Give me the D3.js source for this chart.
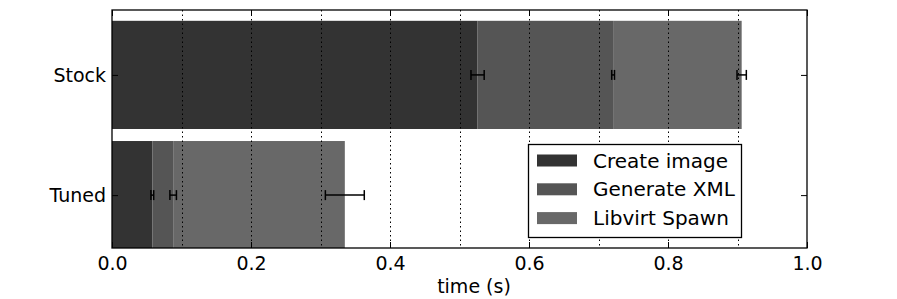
<!DOCTYPE html>
<html>
<head>
<meta charset="utf-8">
<script src="https://cdn.jsdelivr.net/npm/d3@7"></script>
<style>
  body { margin: 0; background: #fff; }
  svg { display: block; font-family: "DejaVu Sans", sans-serif; }
</style>
</head>
<body>
<svg id="chart" width="897" height="299"></svg>
<script>
// data
var categories = ["Tuned", "Stock"];
var createImage = [0.058, 0.526];
var generateXml = [0.030, 0.195];
var libvirtSpawn = [0.247, 0.185];
var createErr = [0.002, 0.0095];
var xmlErr = [0.0047, 0.002];
var spawnErr = [0.028, 0.0067];
var seriesNames = ["Create image", "Generate XML", "Libvirt Spawn"];
var seriesColors = ["#333333", "#555555", "#686868"];
var xTicks = [0.0, 0.2, 0.4, 0.6, 0.8, 1.0];
var gridTicks = [0.1, 0.2, 0.3, 0.4, 0.5, 0.6, 0.7, 0.8, 0.9];

var svg = d3.select("#chart");
var pLeft = 112, pRight = 807, pTop = 10, pBottom = 248;
var fs = 19;

var x = d3.scaleLinear().domain([0, 1]).range([pLeft, pRight]);
var y = d3.scaleLinear().domain([-0.44, 1.54]).range([pBottom, pTop]);
var barH = y(0) - y(0.9);

svg.append("clipPath").attr("id", "plotclip")
  .append("rect").attr("x", pLeft).attr("y", pTop).attr("width", pRight - pLeft).attr("height", pBottom - pTop);

var plot = svg.append("g").attr("clip-path", "url(#plotclip)");

// stack the three phases
var series = [createImage, generateXml, libvirtSpawn];
var errs = [createErr, xmlErr, spawnErr];
var stacked = [];
categories.forEach(function (c, i) {
  var start = 0;
  series.forEach(function (s, k) {
    stacked.push({ cat: i, k: k, x0: start, x1: start + s[i], err: errs[k][i] });
    start += s[i];
  });
});

plot.selectAll(".bar").data(stacked).enter().append("rect")
  .attr("class", "bar")
  .attr("x", function (d) { return x(d.x0); })
  .attr("width", function (d) { return x(d.x1) - x(d.x0); })
  .attr("y", function (d) { return y(d.cat) - barH / 2; })
  .attr("height", barH)
  .attr("fill", function (d) { return seriesColors[d.k]; });

// dotted grid drawn over the bars
plot.selectAll(".grid").data(gridTicks).enter().append("line")
  .attr("class", "grid")
  .attr("x1", function (d) { return Math.round(x(d)) + 0.5; })
  .attr("x2", function (d) { return Math.round(x(d)) + 0.5; })
  .attr("y1", pTop).attr("y2", pBottom)
  .attr("stroke", "#000")
  .attr("stroke-width", 1)
  .attr("stroke-dasharray", "1.5,3");

// error bars
var eb = plot.selectAll(".err").data(stacked).enter().append("g").attr("class", "err");
eb.append("line")
  .attr("x1", function (d) { return x(d.x1 - d.err); })
  .attr("x2", function (d) { return x(d.x1 + d.err); })
  .attr("y1", function (d) { return y(d.cat); })
  .attr("y2", function (d) { return y(d.cat); })
  .attr("stroke", "#000").attr("stroke-width", 1.5);
[-1, 1].forEach(function (sgn) {
  eb.append("line")
    .attr("x1", function (d) { return x(d.x1 + sgn * d.err); })
    .attr("x2", function (d) { return x(d.x1 + sgn * d.err); })
    .attr("y1", function (d) { return y(d.cat) - 5; })
    .attr("y2", function (d) { return y(d.cat) + 5; })
    .attr("stroke", "#000").attr("stroke-width", 1.5);
});

// frame
svg.append("rect")
  .attr("x", pLeft).attr("y", pTop).attr("width", pRight - pLeft).attr("height", pBottom - pTop)
  .attr("fill", "none").attr("stroke", "#000").attr("stroke-width", 1.3);

// x axis: bottom with labels, ticks pointing inward, mirrored ticks on top
var xAxis = d3.axisBottom(x).tickValues(xTicks).tickFormat(d3.format(".1f")).tickSizeInner(-6).tickSizeOuter(0).tickPadding(9);
var gx = svg.append("g").attr("transform", "translate(0," + pBottom + ")").call(xAxis);
gx.select(".domain").remove();
gx.selectAll("text").attr("font-size", fs).attr("font-family", "DejaVu Sans").attr("fill", "#000");
gx.selectAll("line").attr("stroke", "#000");

var gxTop = svg.append("g").attr("transform", "translate(0," + pTop + ")")
  .call(d3.axisTop(x).tickValues(xTicks).tickSizeInner(-6).tickSizeOuter(0).tickFormat(""));
gxTop.select(".domain").remove();
gxTop.selectAll("line").attr("stroke", "#000");

// y axis: category labels on the left, ticks on both sides
var yAxis = d3.axisLeft(y).tickValues([0, 1]).tickFormat(function (d) { return categories[d]; })
  .tickSizeInner(-6).tickSizeOuter(0).tickPadding(6);
var gy = svg.append("g").attr("transform", "translate(" + pLeft + ",0)").call(yAxis);
gy.select(".domain").remove();
gy.selectAll("text").attr("font-size", fs).attr("font-family", "DejaVu Sans").attr("fill", "#000");
gy.selectAll("line").attr("stroke", "#000");

var gyR = svg.append("g").attr("transform", "translate(" + pRight + ",0)")
  .call(d3.axisRight(y).tickValues([0, 1]).tickSizeInner(-6).tickSizeOuter(0).tickFormat(""));
gyR.select(".domain").remove();
gyR.selectAll("line").attr("stroke", "#000");

// axis title
svg.append("text")
  .attr("x", 474).attr("y", 293)
  .attr("text-anchor", "middle")
  .attr("font-size", fs)
  .text("time (s)");

// legend
var legend = svg.append("g").attr("transform", "translate(528,144)");
legend.append("rect")
  .attr("x", 0.5).attr("y", 0.5).attr("width", 213).attr("height", 93)
  .attr("fill", "#fff").attr("stroke", "#000").attr("stroke-width", 1.3);
var rows = legend.selectAll(".row").data(seriesNames).enter().append("g")
  .attr("class", "row")
  .attr("transform", function (d, i) { return "translate(0," + (16.5 + i * 28.8) + ")"; });
rows.append("rect")
  .attr("x", 9).attr("y", -6).attr("width", 40).attr("height", 12)
  .attr("fill", function (d, i) { return seriesColors[i]; });
rows.append("text")
  .attr("x", 65).attr("y", 0).attr("dy", "0.35em")
  .attr("font-size", 20)
  .text(function (d) { return d; });
</script>
</body>
</html>
